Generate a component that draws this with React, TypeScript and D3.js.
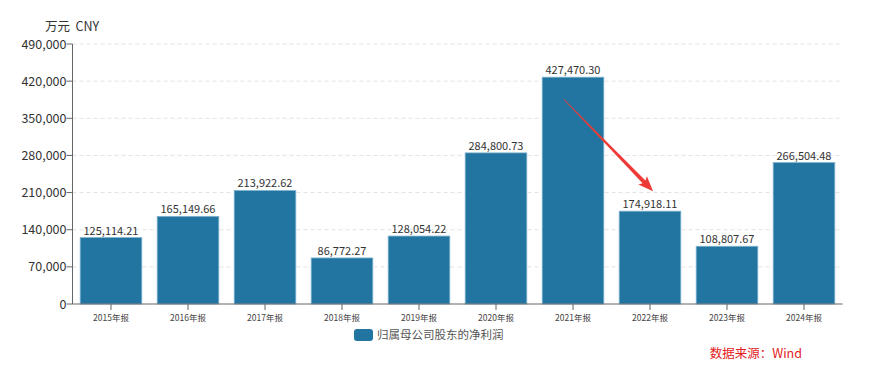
import React from "react";
import * as d3 from "d3";

const categories = ["2015年报","2016年报","2017年报","2018年报","2019年报","2020年报","2021年报","2022年报","2023年报","2024年报"];
const values = [125114.21,165149.66,213922.62,86772.27,128054.22,284800.73,427470.30,174918.11,108807.67,266504.48];
const yTicks = [0,70000,140000,210000,280000,350000,420000,490000];
const seriesName = "归属母公司股东的净利润";
const unitLabel = "万元\u00a0\u00a0CNY";
const sourceLabel = "数据来源：Wind";

const W = 869, H = 385;
const m = { left: 72.5, right: 842.5, top: 44, bottom: 304 };
const font = "'Microsoft YaHei','Noto Sans CJK SC','Noto Sans',sans-serif";

export default function App() {
  const x = d3.scaleBand<string>().domain(categories).range([m.left, m.right]).paddingInner(0.2).paddingOuter(0.1);
  const y = d3.scaleLinear().domain([0, 490000]).range([m.bottom, m.top]);
  const fmt = d3.format(",.2f");
  const fmtT = d3.format(",");
  const x0 = x("2021年报")! + x.bandwidth() * 0.35, y0 = y(427470.3) + 22;
  const x1 = x("2022年报")! + x.bandwidth() * 0.55, y1 = y(174918.11) - 20;
  const ang = Math.atan2(y1 - y0, x1 - x0);
  const len = Math.hypot(x1 - x0, y1 - y0);
  const pts: [number, number][] = [[0, -0.3], [len - 13, -2], [len - 15, -6], [len, 0], [len - 15, 6], [len - 13, 2], [0, 0.3]];
  const poly = pts.map(([a, b]) => [x0 + a * Math.cos(ang) - b * Math.sin(ang), y0 + a * Math.sin(ang) + b * Math.cos(ang)].join(",")).join(" ");
  return (
    <svg width={W} height={H} style={{ position: "absolute", left: 0, top: 0, background: "#fff" }} fontFamily={font}>
      {yTicks.slice(1).map(t => (
        <line key={t} x1={m.left} x2={m.right} y1={y(t)} y2={y(t)} stroke="#e3e3e3" strokeDasharray="4,3" />
      ))}
      {categories.map((c, i) => (
        <rect key={c} x={x(c)} y={y(values[i])} width={x.bandwidth()} height={y(0) - y(values[i])} fill="#2275a0" stroke="#7fb3d0" strokeWidth={0.8} />
      ))}
      {categories.map((c, i) => (
        <text key={c} x={x(c)! + x.bandwidth() / 2} y={y(values[i]) - 3} textAnchor="middle" fontSize={11} fill="#333">{fmt(values[i])}</text>
      ))}
      <line x1={m.left} x2={m.left} y1={m.top} y2={m.bottom} stroke="#666" />
      <line x1={m.left} x2={m.right} y1={m.bottom} y2={m.bottom} stroke="#666" />
      {yTicks.map(t => (
        <g key={t}>
          <line x1={m.left - 6} x2={m.left} y1={y(t)} y2={y(t)} stroke="#666" />
          <text x={m.left - 6} y={y(t) + 4.5} textAnchor="end" fontSize={12.5} fill="#333">{fmtT(t)}</text>
        </g>
      ))}
      {categories.map(c => (
        <g key={c}>
          <line x1={x(c)! + x.bandwidth() / 2} x2={x(c)! + x.bandwidth() / 2} y1={m.bottom} y2={m.bottom + 6} stroke="#666" />
          <text x={x(c)! + x.bandwidth() / 2} y={m.bottom + 17} textAnchor="middle" fontSize={8.5} fill="#444">{c}</text>
        </g>
      ))}
      <text x={45} y={31} fontSize={12.5} fill="#333">{unitLabel}</text>
      <rect x={354} y={329} width={19} height={12} rx={3} fill="#2275a0" />
      <text x={377} y={339} fontSize={11.5} fill="#555">{seriesName}</text>
      <text x={802} y={358} textAnchor="end" fontSize={12.5} fill="#e3201b">{sourceLabel}</text>
      <polygon points={poly} fill="#ee3a36" />
    </svg>
  );
}
